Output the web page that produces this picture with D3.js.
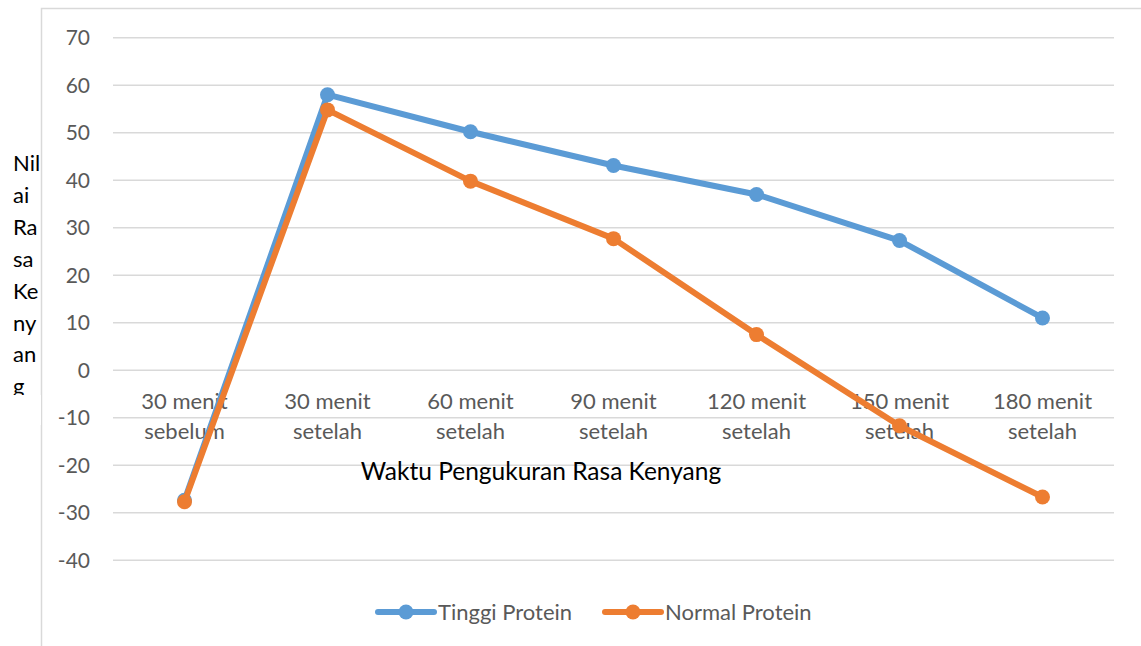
<!DOCTYPE html>
<html><head><meta charset="utf-8">
<script src="https://cdn.jsdelivr.net/npm/d3@7"></script>
<style>html,body{margin:0;padding:0;background:#fff;overflow:hidden}</style>
</head><body>
<svg id="c" width="1141" height="646"></svg>
<script>
const categories = [["30 menit","sebelum"],["30 menit","setelah"],["60 menit","setelah"],["90 menit","setelah"],["120 menit","setelah"],["150 menit","setelah"],["180 menit","setelah"]];
const tinggiProtein = [-27.4, 58.0, 50.2, 43.1, 37.0, 27.3, 11.0];
const normalProtein = [-27.7, 54.8, 39.8, 27.7, 7.5, -11.7, -26.7];
const yTicks = [-40,-30,-20,-10,0,10,20,30,40,50,60,70];
const seriesNames = ["Tinggi Protein","Normal Protein"];
const yTitleLines = ["Nil","ai","Ra","sa","Ke","ny","an","g"];
const xTitle = "Waktu Pengukuran Rasa Kenyang";

const font = "Lato, 'Open Sans', sans-serif";
const svg = d3.select("#c");
// chart border
svg.append("path").attr("d","M41.5,646 V8.5 H1141").attr("fill","none").attr("stroke","#d9d9d9").attr("stroke-width",1.5);

const x = d3.scaleBand().domain(d3.range(categories.length)).range([113,1114]);
const y = d3.scaleLinear().domain([-40,70]).range([560.2,37.7]);

// gridlines
svg.append("g").selectAll("line").data(yTicks).join("line")
  .attr("x1",113).attr("x2",1114).attr("y1",d=>y(d)).attr("y2",d=>y(d))
  .attr("stroke","#d9d9d9").attr("stroke-width",1.5);

// y tick labels
svg.append("g").selectAll("text").data(yTicks).join("text")
  .attr("x",90).attr("y",d=>y(d)).attr("dy","0.36em").attr("text-anchor","end")
  .attr("font-family",font).attr("font-size",21).attr("fill","#595959").text(d=>d);

// category labels
const cat = svg.append("g").selectAll("text").data(categories).join("text")
  .attr("text-anchor","middle").attr("font-family",font).attr("font-size",22).attr("fill","#595959");
cat.each(function(d,i){
  const t=d3.select(this);
  d.forEach((s,j)=>t.append("tspan").attr("x",x(i)+x.bandwidth()/2).attr("y",409+j*30).text(s));
});

// axis titles
svg.append("text").attr("x",541).attr("y",480).attr("text-anchor","middle")
  .attr("font-family",font).attr("font-size",24.5).attr("fill","#000").text(xTitle);
const yt = svg.append("g");
yTitleLines.forEach((s,i)=>{
  yt.append("text").attr("x",13).attr("y",171+i*31.9).attr("font-family",font).attr("font-size",22).attr("fill","#000").text(s);
});
// clip last line (g) as in original
svg.append("rect").attr("x",0).attr("y",395).attr("width",41).attr("height",30).attr("fill","#fff");

const colors = ["#5B9BD5","#ED7D31"];
const data = [tinggiProtein, normalProtein];
const line = d3.line().x((d,i)=>x(i)+x.bandwidth()/2).y(d=>y(d));
data.forEach((s,k)=>{
  const g = svg.append("g");
  g.append("path").attr("d",line(s)).attr("fill","none").attr("stroke",colors[k]).attr("stroke-width",6).attr("stroke-linejoin","round");
  g.selectAll("circle").data(s).join("circle").attr("cx",(d,i)=>x(i)+x.bandwidth()/2).attr("cy",d=>y(d)).attr("r",7.5).attr("fill",colors[k]);
});

// legend
const legX = [378, 605];
seriesNames.forEach((n,k)=>{
  const g = svg.append("g");
  g.append("line").attr("x1",legX[k]).attr("x2",legX[k]+56).attr("y1",612).attr("y2",612).attr("stroke",colors[k]).attr("stroke-width",6).attr("stroke-linecap","round");
  g.append("circle").attr("cx",legX[k]+28).attr("cy",612).attr("r",7.5).attr("fill",colors[k]);
  g.append("text").attr("x",legX[k]+60).attr("y",612).attr("dy","0.36em").attr("font-family",font).attr("font-size",22).attr("fill","#595959").text(n);
});
</script>
</body></html>
